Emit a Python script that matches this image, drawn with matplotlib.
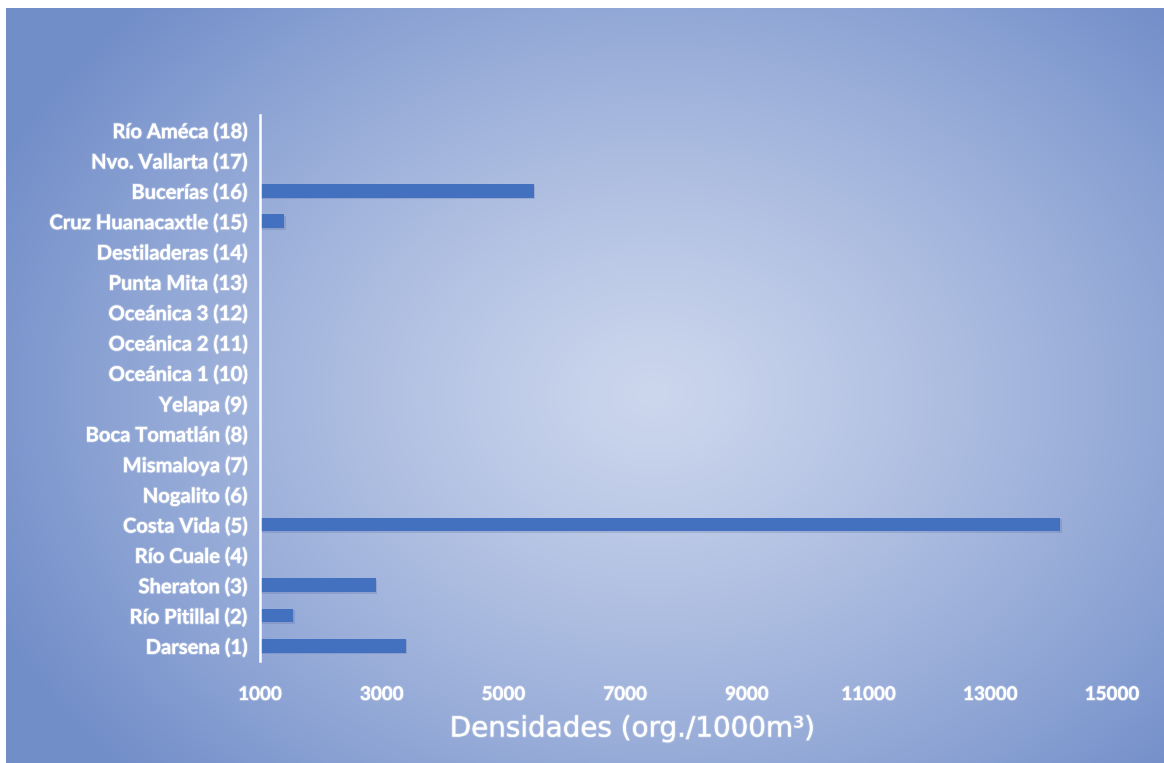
import numpy as np
import matplotlib.pyplot as plt
import matplotlib.patheffects as pe

# sampling stations, bottom to top
estaciones = ['Darsena (1)', 'Río Pitillal (2)', 'Sheraton (3)', 'Río Cuale (4)',
              'Costa Vida (5)', 'Nogalito (6)', 'Mismaloya (7)', 'Boca Tomatlán (8)',
              'Yelapa (9)', 'Oceánica 1 (10)', 'Oceánica 2 (11)', 'Oceánica 3 (12)',
              'Punta Mita (13)', 'Destiladeras (14)', 'Cruz Huanacaxtle (15)',
              'Bucerías (16)', 'Nvo. Vallarta (17)', 'Río Améca (18)']
densidad = [3400, 1550, 2900, 0, 14150, 0, 0, 0, 0, 0, 0, 0, 0, 0, 1400, 5500, 0, 0]

xticks = [1000, 3000, 5000, 7000, 9000, 11000, 13000, 15000]

W, H = 1164, 763
fig = plt.figure(figsize=(W/100, H/100), dpi=100)
fig.patch.set_facecolor('white')

#----------------------------------- radial background
bg = fig.add_axes([6/W, 0, 1 - 6/W, 1 - 8/H])
bg.set_axis_off()
yy, xx = np.mgrid[0:H, 0:W]
cx, cy = 650.0, 390.0
r = np.sqrt(((xx - cx)/720.0)**2 + ((yy - cy)/560.0)**2)
r = np.clip(r, 0, 1)
inner = np.array([0.80, 0.84, 0.93])
outer = np.array([0.45, 0.56, 0.79])
t = r[..., None]**1.2
img = inner*(1 - t) + outer*t
bg.imshow(img, aspect='auto', extent=[0, 1, 0, 1])
bg.set_xlim(0, 1)
bg.set_ylim(0, 1)

#----------------------------------- bars
ax = fig.add_axes([260/W, 1 - 661/H, 852/W, 546/H])
ax.patch.set_alpha(0)

y = np.arange(len(estaciones))
fx = [pe.SimplePatchShadow(offset=(1, -1), shadow_rgbFace=(0.25, 0.35, 0.6), alpha=0.2),
      pe.Normal()]
ax.barh(y, densidad, height=0.46, color='#4470c0', left=0, path_effects=fx)

ax.set_xlim(1000, 15000)
ax.set_ylim(-0.5, len(estaciones) - 0.5)

for s in ['top', 'right', 'bottom']:
    ax.spines[s].set_visible(False)
ax.spines['left'].set_color('white')
ax.spines['left'].set_linewidth(1.8)

glow = [pe.withStroke(linewidth=1.5, foreground=(1, 1, 1, 0.25))]

ax.set_yticks(y)
ax.set_yticklabels(estaciones, fontsize=14.5, fontweight='bold', color='white',
                   family='Lato', path_effects=glow)
ax.set_xticks(xticks)
ax.set_xticklabels([str(v) for v in xticks], fontsize=13.5, fontweight='bold',
                   color='white', family='Lato', path_effects=glow)
ax.tick_params(axis='y', length=0, pad=9)
ax.tick_params(axis='x', length=0, pad=18)

ax.set_xlabel('Densidades (org./1000m³)', fontsize=20, color='white',
              family='DejaVu Sans', path_effects=glow)
ax.xaxis.set_label_coords(0.437, -0.098)

fig.savefig('out.png', dpi=100, facecolor=fig.get_facecolor())
